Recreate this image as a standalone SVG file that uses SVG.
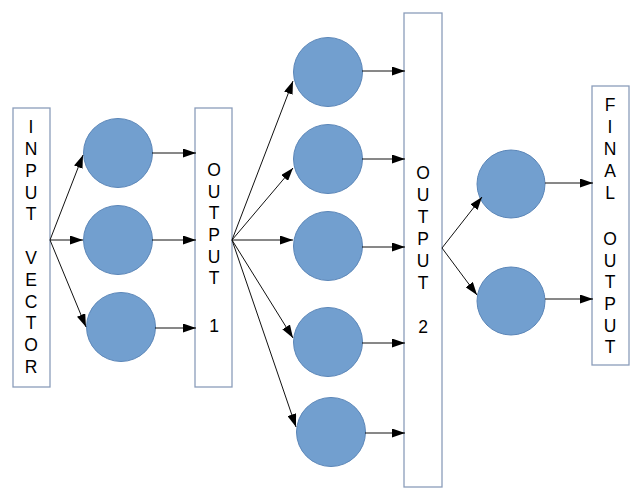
<svg xmlns="http://www.w3.org/2000/svg" width="640" height="501" viewBox="0 0 640 501">
<defs>
<style>
.box{fill:#fff;stroke:#8b9dba;stroke-width:1.3}
.n{fill:#729fcf;stroke:#5b86b8;stroke-width:1}
.t{font-family:"Liberation Sans",Arial,sans-serif;font-size:17.5px;fill:#000;text-anchor:middle}
.c{stroke:#111;stroke-width:1;fill:none;marker-end:url(#ah)}
</style>
<marker id="ah" markerUnits="userSpaceOnUse" markerWidth="13" markerHeight="9" refX="13" refY="4.5" orient="auto">
<path d="M0,0 L13,4.5 L0,9 z" fill="#000"/>
</marker>
</defs>
<rect width="640" height="501" fill="#fff"/>
<g id="input">
<rect class="box" x="13" y="108" width="37" height="279"/>
<text class="t"><tspan x="31" y="133">I</tspan><tspan x="31" y="155">N</tspan><tspan x="31" y="177">P</tspan><tspan x="31" y="199">U</tspan><tspan x="31" y="220">T</tspan><tspan x="31" y="264">V</tspan><tspan x="31" y="286">E</tspan><tspan x="31" y="308">C</tspan><tspan x="31" y="329">T</tspan><tspan x="31" y="351">O</tspan><tspan x="31" y="373">R</tspan></text>
</g>
<g id="h1a"><circle class="n" cx="118" cy="153" r="34.5"/></g>
<g id="h1b"><circle class="n" cx="118" cy="240" r="34.5"/></g>
<g id="h1c"><circle class="n" cx="121" cy="327" r="34.5"/></g>
<g id="output1">
<rect class="box" x="195" y="108" width="37" height="279"/>
<text class="t"><tspan x="214" y="176">O</tspan><tspan x="214" y="198">U</tspan><tspan x="214" y="219">T</tspan><tspan x="214" y="241">P</tspan><tspan x="214" y="263">U</tspan><tspan x="214" y="284">T</tspan><tspan x="214" y="332">1</tspan></text>
</g>
<g id="h2a"><circle class="n" cx="328" cy="72" r="34.5"/></g>
<g id="h2b"><circle class="n" cx="328" cy="159" r="34.5"/></g>
<g id="h2c"><circle class="n" cx="328" cy="246" r="34.5"/></g>
<g id="h2d"><circle class="n" cx="328" cy="342" r="34.5"/></g>
<g id="h2e"><circle class="n" cx="331" cy="432" r="34.5"/></g>
<g id="output2">
<rect class="box" x="404" y="13" width="38" height="474"/>
<text class="t"><tspan x="423" y="179">O</tspan><tspan x="423" y="201">U</tspan><tspan x="423" y="223">T</tspan><tspan x="423" y="245">P</tspan><tspan x="423" y="267">U</tspan><tspan x="423" y="289">T</tspan><tspan x="423" y="333">2</tspan></text>
</g>
<g id="h3a"><circle class="n" cx="511" cy="184" r="34"/></g>
<g id="h3b"><circle class="n" cx="511" cy="301" r="34"/></g>
<g id="final">
<rect class="box" x="592" y="86" width="37" height="279"/>
<text class="t"><tspan x="610" y="111">F</tspan><tspan x="610" y="133">I</tspan><tspan x="610" y="155">N</tspan><tspan x="610" y="177">A</tspan><tspan x="610" y="199">L</tspan><tspan x="610" y="245">O</tspan><tspan x="610" y="267">U</tspan><tspan x="610" y="288">T</tspan><tspan x="610" y="310">P</tspan><tspan x="610" y="332">U</tspan><tspan x="610" y="353">T</tspan></text>
</g>
<g id="connectors">
<line class="c" x1="50" y1="240" x2="83" y2="155"/>
<line class="c" x1="50" y1="240" x2="83" y2="240"/>
<line class="c" x1="50" y1="240" x2="86" y2="327"/>
<line class="c" x1="152" y1="153" x2="196" y2="153"/>
<line class="c" x1="152" y1="240" x2="196" y2="240"/>
<line class="c" x1="155" y1="328" x2="196" y2="328"/>
<line class="c" x1="232" y1="240" x2="293" y2="81"/>
<line class="c" x1="232" y1="240" x2="293" y2="168"/>
<line class="c" x1="232" y1="240" x2="293" y2="240"/>
<line class="c" x1="232" y1="240" x2="293" y2="338"/>
<line class="c" x1="232" y1="240" x2="296" y2="427"/>
<line class="c" x1="362" y1="71" x2="405" y2="71"/>
<line class="c" x1="362" y1="159" x2="405" y2="159"/>
<line class="c" x1="362" y1="247" x2="405" y2="247"/>
<line class="c" x1="362" y1="343" x2="405" y2="343"/>
<line class="c" x1="365" y1="433" x2="405" y2="433"/>
<line class="c" x1="442" y1="248" x2="482" y2="197"/>
<line class="c" x1="442" y1="248" x2="477" y2="295"/>
<line class="c" x1="545" y1="183" x2="593" y2="183"/>
<line class="c" x1="545" y1="299" x2="593" y2="299"/>
</g>
</svg>
